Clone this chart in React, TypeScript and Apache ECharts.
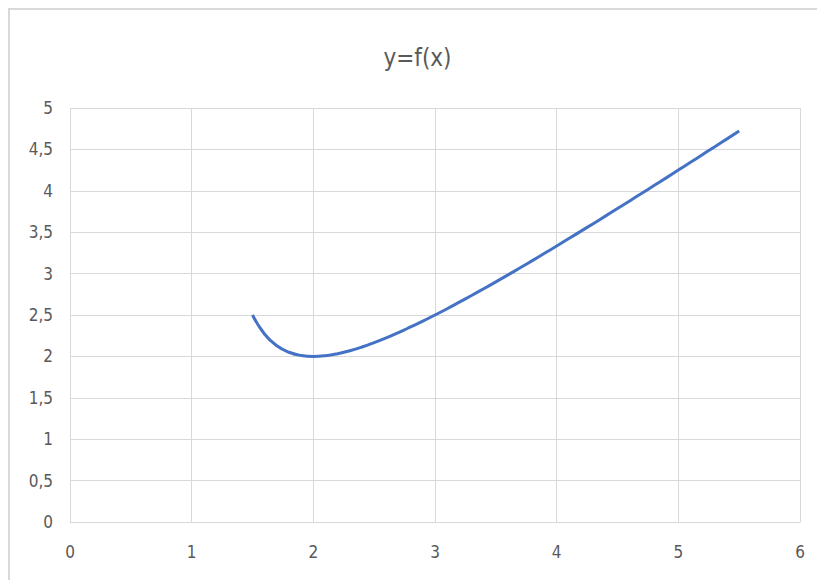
import React, { useEffect, useRef } from "react";
import * as echarts from "echarts";

const xValues = [1.5, 1.6, 1.7, 1.8, 1.9, 2.0, 2.1, 2.2, 2.3, 2.4, 2.5, 2.6, 2.7, 2.8, 2.9, 3.0, 3.1, 3.2, 3.3, 3.4, 3.5, 3.6, 3.7, 3.8, 3.9, 4.0, 4.1, 4.2, 4.3, 4.4, 4.5, 4.6, 4.7, 4.8, 4.9, 5.0, 5.1, 5.2, 5.3, 5.4, 5.5];
const yValues = [2.5, 2.267, 2.129, 2.05, 2.011, 2.0, 2.009, 2.033, 2.069, 2.114, 2.167, 2.225, 2.288, 2.356, 2.426, 2.5, 2.576, 2.655, 2.735, 2.817, 2.9, 2.985, 3.07, 3.157, 3.245, 3.333, 3.423, 3.513, 3.603, 3.694, 3.786, 3.878, 3.97, 4.063, 4.156, 4.25, 4.344, 4.438, 4.533, 4.627, 4.722];
const titleText = "y=f(x)";

const FONT = "'DejaVu Sans Condensed', 'Liberation Sans Narrow', 'Liberation Sans', sans-serif";

export default function App() {
  const ref = useRef<HTMLDivElement>(null);
  useEffect(() => {
    if (!ref.current) return;
    const chart = echarts.init(ref.current, undefined, { renderer: "svg" });
    const data = xValues.map((x, i) => [x, yValues[i]]);
    chart.setOption({
      animation: false,
      backgroundColor: "#ffffff",
      title: {
        text: titleText,
        left: "center",
        top: 31,
        textStyle: { fontFamily: FONT, fontSize: 24, fontWeight: "normal", color: "#595959" },
      },
      grid: { left: 60, right: 25, top: 98, bottom: 58 },
      xAxis: {
        type: "value",
        min: 0,
        max: 6,
        interval: 1,
        axisLine: { show: true, lineStyle: { color: "#d9d9d9", width: 1 } },
        axisTick: { show: false },
        axisLabel: { color: "#595959", fontFamily: FONT, fontSize: 17, margin: 21 },
        splitLine: { show: true, lineStyle: { color: "#d9d9d9", width: 1 } },
      },
      yAxis: {
        type: "value",
        min: 0,
        max: 5,
        interval: 0.5,
        axisLine: { show: false },
        axisTick: { show: false },
        axisLabel: {
          color: "#595959",
          fontFamily: FONT,
          fontSize: 17,
          margin: 17,
          formatter: (v: number) => String(v).replace(".", ","),
        },
        splitLine: { show: true, lineStyle: { color: "#d9d9d9", width: 1 } },
      },
      series: [
        {
          type: "line",
          data,
          smooth: true,
          showSymbol: false,
          lineStyle: { color: "#4472C4", width: 3 },
        },
      ],
    });
    return () => chart.dispose();
  }, []);
  return (
    <div style={{ borderTop: "2px solid #d9d9d9", borderLeft: "2px solid #d9d9d9", width: 815, height: 570, overflow: "hidden" }}>
      <div ref={ref} style={{ width: 815, height: 570 }} />
    </div>
  );
}
